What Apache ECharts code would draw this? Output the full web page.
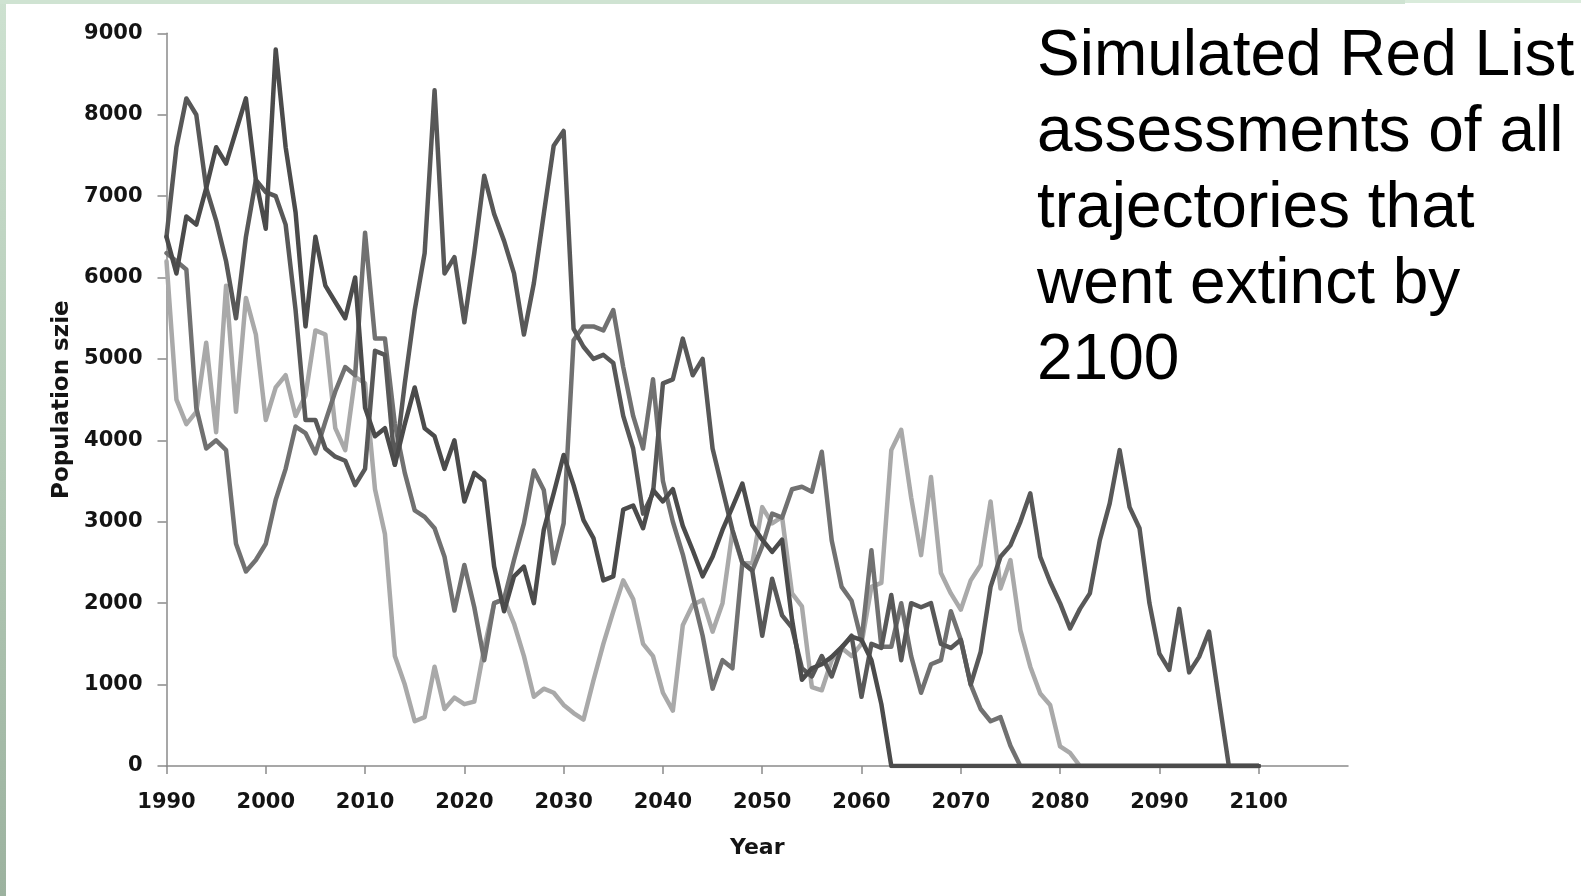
<!DOCTYPE html>
<html>
<head>
<meta charset="utf-8">
<title>Simulated Red List assessments</title>
<script src="https://cdn.jsdelivr.net/npm/echarts@6/dist/echarts.min.js"></script>
<style>
  html, body { margin: 0; padding: 0; background: #ffffff; }
  #frame { position: relative; width: 1581px; height: 896px; overflow: hidden; background: #ffffff; }
  #chart { position: absolute; left: 0; top: 0; width: 1581px; height: 896px; }
  .edge-left { position: absolute; left: 0; top: 0; width: 6px; height: 896px;
    background: linear-gradient(to bottom, #cde1d0 0%, #b4cab7 50%, #9cb29f 100%); }
  .edge-top { position: absolute; left: 0; top: 0; width: 1405px; height: 4px; background: #cfe3d2; }
  .edge-top2 { position: absolute; left: 1405px; top: 0; width: 176px; height: 3px; background: #d9ebdb; }
</style>
</head>
<body>
<div id="frame">
  <div id="chart"></div>
  <div class="edge-left"></div>
  <div class="edge-top"></div>
  <div class="edge-top2"></div>
</div>
<script>
// Year categories: the axis runs on to 2109, trajectories are recorded 1990-2100
const firstYear = 1990;
const lastAxisYear = 2109;
const lastLabelYear = 2100;
const years = [];
for (let y = firstYear; y <= lastAxisYear; y++) years.push(String(y));

const yTicks = { min: 0, max: 9000, step: 1000 };

// Population trajectories (one value per year, 1990-2100)
const trajA = [
  6500, 6050, 6750, 6650, 7100, 7600, 7400, 7800, 8200, 7200,
  6600, 8800, 7600, 6800, 5400, 6500, 5900, 5700, 5500, 6000,
  4400, 4050, 4150, 3700, 4200, 4650, 4150, 4050, 3650, 4000,
  3250, 3600, 3500, 2450, 1900, 2330, 2450, 2000, 2900, 3350,
  3820, 3450, 3020, 2800, 2280, 2330, 3150, 3200, 2920, 3390,
  3250, 3400, 2950, 2650, 2330, 2570, 2900, 3180, 3470, 2960,
  2780, 2630, 2780, 1800, 1060, 1200, 1250, 1340, 1460, 1590,
  1550, 1300, 760, 0, 0, 0, 0, 0, 0, 0,
  0, 0, 0, 0, 0, 0, 0, 0, 0, 0,
  0, 0, 0, 0, 0, 0, 0, 0, 0, 0,
  0, 0, 0, 0, 0, 0, 0, 0, 0, 0,
  0
];

const trajB = [
  6500, 7600, 8200, 8000, 7100, 6700, 6200, 5500, 6500, 7200,
  7050, 7000, 6650, 5600, 4250, 4250, 3900, 3800, 3750, 3450,
  3650, 5100, 5050, 3700, 4700, 5600, 6300, 8300, 6050, 6250,
  5450, 6300, 7250, 6780, 6450, 6050, 5300, 5930, 6780, 7620,
  7800, 5370, 5150, 5000, 5050, 4950, 4300, 3900, 3100, 3350,
  4700, 4750, 5250, 4800, 5000, 3900, 3400, 2900, 2500, 2400,
  1600, 2300, 1850, 1700, 1200, 1100, 1350, 1100, 1450, 1600,
  850, 1500, 1450, 2100, 1300, 2000, 1950, 2000, 1500, 1450,
  1550, 1000, 1400, 2200, 2570, 2710, 3000, 3350, 2570, 2260,
  2000, 1690, 1930, 2120, 2775, 3225, 3880, 3180, 2920, 2000,
  1380, 1180, 1930, 1150, 1340, 1650, 820, 0, 0, 0,
  0
];

const trajC = [
  6300, 6200, 6100, 4400, 3900, 4000, 3880, 2730, 2390, 2530,
  2730, 3270, 3650, 4170, 4090, 3840, 4230, 4600, 4900, 4800,
  6550, 5250, 5250, 4200, 3600, 3140, 3060, 2920, 2570, 1910,
  2470, 1950, 1300, 2000, 2050, 2530, 2980, 3630, 3390, 2490,
  2980, 5230, 5400, 5400, 5350, 5600, 4900, 4300, 3900, 4750,
  3500, 3000, 2600, 2100, 1600, 950, 1300, 1200, 2500, 2400,
  2700, 3100, 3050, 3400, 3430, 3370, 3860, 2770, 2200, 2030,
  1540, 2650, 1465, 1465, 2000, 1350, 900, 1250, 1300, 1900,
  1550, 1000, 700, 550, 600, 250, 0, 0, 0, 0,
  0, 0, 0, 0, 0, 0, 0, 0, 0, 0,
  0, 0, 0, 0, 0, 0, 0, 0, 0, 0,
  0
];

const trajD = [
  6200, 4500, 4200, 4350, 5200, 4100, 5900, 4350, 5750, 5300,
  4250, 4650, 4800, 4300, 4550, 5350, 5300, 4150, 3880, 4780,
  4700, 3400, 2850, 1350, 1000, 550, 600, 1220, 700, 840,
  760, 790, 1450, 2000, 2050, 1750, 1350, 850, 950, 900,
  750, 650, 570, 1050, 1500, 1900, 2280, 2050, 1500, 1350,
  900, 680, 1730, 1980, 2040, 1650, 2000, 2880, 2490, 2490,
  3180, 2980, 3060, 2120, 1960, 970, 930, 1300, 1450, 1350,
  1500, 2200, 2250, 3880, 4130, 3300, 2590, 3550, 2370, 2120,
  1920, 2280, 2470, 3250, 2180, 2530, 1670, 1220, 890, 750,
  240, 160, 0, 0, 0, 0, 0, 0, 0, 0,
  0, 0, 0, 0, 0, 0, 0, 0, 0, 0,
  0
];

const titleLines = [
  'Simulated Red List',
  'assessments of all',
  'trajectories that',
  'went extinct by',
  '2100'
];

const axisGrey = '#8a8a8a';
const labelFont = {
  fontFamily: '"DejaVu Sans", sans-serif',
  fontWeight: 'bold',
  fontSize: 21,
  color: '#141414'
};

// Labels and ticks every ten years, up to the last labelled year
const lastLabelIndex = lastLabelYear - firstYear;
function decadeOnly(index) {
  return index % 10 === 0 && index <= lastLabelIndex;
}

function lineSeries(name, data, color) {
  return {
    name: name,
    type: 'line',
    data: data,
    symbol: 'none',
    smooth: false,
    lineStyle: { color: color, width: 4.5, join: 'round', cap: 'round' },
    emphasis: { disabled: true },
    z: 2
  };
}

const chart = echarts.init(document.getElementById('chart'), null, { renderer: 'canvas' });
chart.setOption({
  animation: false,
  backgroundColor: 'transparent',
  title: {
    text: titleLines.join('\n'),
    left: 1037,
    top: 19,
    padding: 0,
    textStyle: {
      fontFamily: 'Liberation Sans',
      fontWeight: 'normal',
      fontSize: 64,
      lineHeight: 76,
      color: '#000000'
    }
  },
  grid: { left: 166.5, right: 233, top: 33.3, bottom: 130, containLabel: false },
  xAxis: {
    type: 'category',
    data: years,
    boundaryGap: false,
    name: 'Year',
    nameLocation: 'middle',
    nameGap: 71,
    nameTextStyle: Object.assign({}, labelFont, { fontSize: 22 }),
    axisLine: { show: true, lineStyle: { color: axisGrey, width: 1.5 } },
    axisTick: { show: true, interval: decadeOnly, length: 8, lineStyle: { color: axisGrey, width: 1.5 } },
    axisLabel: Object.assign({ interval: decadeOnly, margin: 26 }, labelFont),
    splitLine: { show: false }
  },
  yAxis: {
    type: 'value',
    min: yTicks.min,
    max: yTicks.max,
    interval: yTicks.step,
    name: 'Population szie',
    nameLocation: 'middle',
    nameGap: 89,
    nameRotate: 90,
    nameTextStyle: Object.assign({}, labelFont, { fontSize: 23 }),
    axisLine: { show: true, lineStyle: { color: axisGrey, width: 1.5 } },
    axisTick: { show: true, length: 9, lineStyle: { color: axisGrey, width: 1.5 } },
    axisLabel: Object.assign({ margin: 24, formatter: function (v) { return String(v); } }, labelFont),
    splitLine: { show: false }
  },
  series: [
    lineSeries('Trajectory 4', trajD, '#a9a9a9'),
    lineSeries('Trajectory 3', trajC, '#717171'),
    lineSeries('Trajectory 2', trajB, '#585858'),
    lineSeries('Trajectory 1', trajA, '#4b4b4b')
  ]
});
</script>
</body>
</html>
